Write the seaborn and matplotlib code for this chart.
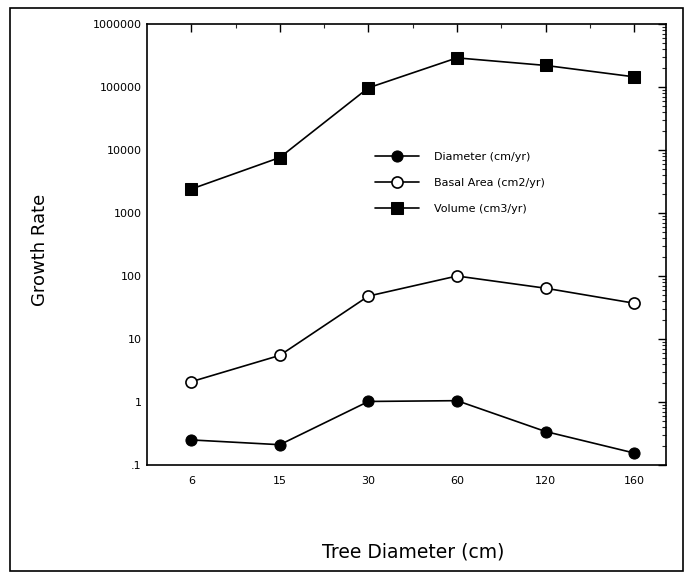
import matplotlib
matplotlib.use("Agg")
import matplotlib.pyplot as plt
import seaborn as sns
import pandas as pd
import numpy as np
from matplotlib.patches import Rectangle
from matplotlib.ticker import LogLocator, NullFormatter

categories = ["6", "15", "30", "60", "120", "160"]
diameter = [0.25, 0.21, 1.02, 1.05, 0.34, 0.155]
basal_area = [2.1, 5.5, 48, 100, 64, 37]
volume = [2400, 7600, 97000, 290000, 220000, 145000]
series_names = ["Diameter (cm/yr)", "Basal Area (cm2/yr)", "Volume (cm3/yr)"]
ytick_vals = [0.1, 1, 10, 100, 1000, 10000, 100000, 1000000]
ytick_labels = [".1", "1", "10", "100", "1000", "10000", "100000", "1000000"]

sns.set_theme(style="white")
plt.rcParams['font.family'] = ['DejaVu Sans']
plt.rcParams['text.color'] = 'black'

fig = plt.figure(figsize=(6.89, 5.74), dpi=100)
ax = fig.add_axes([147/689, 1-465/574, (666-147)/689, (465-24)/574])

styles = [
    dict(marker="o", mfc="black", mec="black", ms=8),
    dict(marker="o", mfc="white", mec="black", ms=8, mew=1.2),
    dict(marker="s", mfc="black", mec="black", ms=8),
]
for name, vals, st in zip(series_names, [diameter, basal_area, volume], styles):
    df = pd.DataFrame({"x": categories, "y": vals})
    sns.lineplot(data=df, x="x", y="y", ax=ax, color="black", lw=1.2,
                 sort=False, label=name, **st)

ax.set_yscale("log")
ax.set_ylim(0.1, 1000000)
ax.set_xlim(-0.5, 5.36)
ax.set_yticks(ytick_vals)
ax.set_yticklabels(ytick_labels)
ax.yaxis.set_minor_locator(LogLocator(base=10, subs=np.arange(2, 10)))
ax.yaxis.set_minor_formatter(NullFormatter())
ax.set_xticks(range(len(categories)))
ax.set_xticklabels(categories)
ax.set_xticks(np.arange(0.5, 5.5, 1), minor=True)
ax.tick_params(axis="both", which="major", direction="in", length=6, width=1,
               top=True, right=True, labelsize=8, colors="black", pad=8)
ax.tick_params(axis="both", which="minor", direction="in", length=3, width=0.8,
               top=True, right=True)
ax.tick_params(axis="y", which="major", pad=4)
for s in ax.spines.values():
    s.set_color("black")
    s.set_linewidth(1.2)

ax.set_xlabel("")
ax.set_ylabel("")
fig.text(40/689, 1-250/574, "Growth Rate", rotation=90, ha="center", va="center",
         fontsize=13, color="black")
fig.text(413/689, 1-552/574, "Tree Diameter (cm)", ha="center", va="center",
         fontsize=13.5, color="black")

leg = ax.legend(loc="upper left", bbox_to_anchor=(0.42, 0.733), frameon=False,
                fontsize=8, handlelength=4, labelspacing=1.45, handletextpad=1.3)
for t in leg.get_texts():
    t.set_color("black")

fig.patches.append(Rectangle((10/689, 1-571/574), (683-10)/689, (571-8)/574,
                             transform=fig.transFigure, fill=False,
                             edgecolor="black", lw=1.2))

fig.savefig("out.png", dpi=100, facecolor="white")
